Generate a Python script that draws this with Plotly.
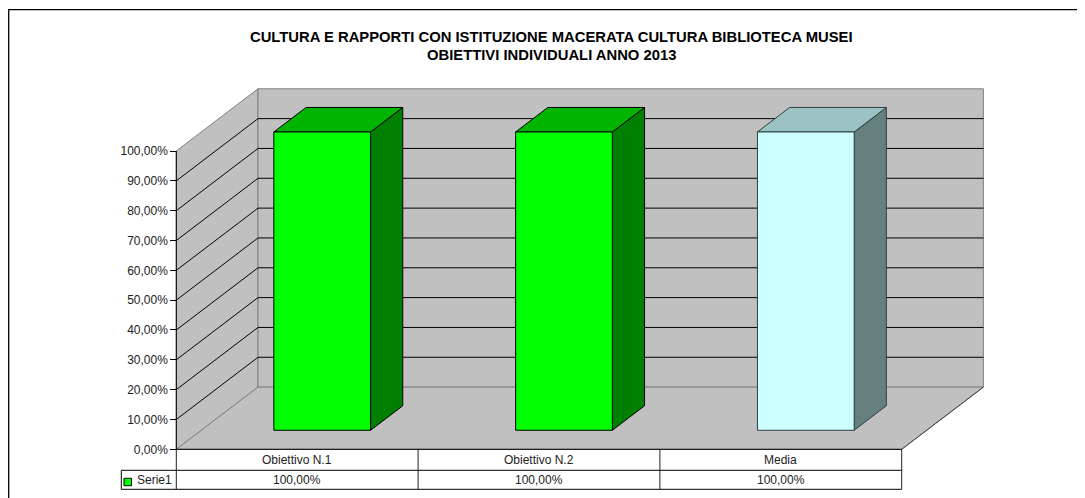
import plotly.graph_objects as go

# ---- data ----
categories = ["Obiettivo N.1", "Obiettivo N.2", "Media"]
values = [1.0, 1.0, 1.0]
series_name = "Serie1"
tick_values = [0, 0.1, 0.2, 0.3, 0.4, 0.5, 0.6, 0.7, 0.8, 0.9, 1.0]
title_lines = ["CULTURA E RAPPORTI CON ISTITUZIONE MACERATA CULTURA BIBLIOTECA MUSEI",
               "OBIETTIVI INDIVIDUALI ANNO 2013"]

# ---- styling / geometry ----
OFF = 8  # page body margin of the html document
W, H = 1085 - OFF, 498 - OFF
PX_PER_CAT = 241.8
PX_PER_UNIT = 298.3
X0_PX = 176.3 - OFF
Y0_PX = 449.3 - OFF
xmin = -X0_PX / PX_PER_CAT
xmax = xmin + W / PX_PER_CAT
ymax = Y0_PX / PX_PER_UNIT
ymin = ymax - H / PX_PER_UNIT
DXC = 81.7 / PX_PER_CAT     # depth offset in category units
DYV = 62.2 / PX_PER_UNIT    # depth offset in value units
D0, D1 = 0.306, 0.70
BAR_W = 0.4
VMAX = 1.0
NCAT = len(categories)

front_cols = ["#00FF00", "#00FF00", "#CCFFFF"]
top_cols = ["#00B400", "#00B400", "#9CC3C3"]
side_cols = ["#008000", "#008000", "#668080"]
edge_cols = ["#000000", "#000000", "#2F3F3F"]
WALL = "#C0C0C0"
WALL_EDGE = "#808080"
FONT = "Liberation Sans, Arial, sans-serif"


def P(c, v, d):
    return c + d * DXC, v + d * DYV


def poly(pts, fill, line, width=1):
    xs = [p[0] for p in pts] + [pts[0][0]]
    ys = [p[1] for p in pts] + [pts[0][1]]
    return go.Scatter(x=xs, y=ys, mode="lines", fill="toself", fillcolor=fill,
                      line=dict(color=line, width=width), hoverinfo="skip",
                      showlegend=False)


def line(pts, color, width=1):
    return go.Scatter(x=[p[0] for p in pts], y=[p[1] for p in pts], mode="lines",
                      line=dict(color=color, width=width), hoverinfo="skip",
                      showlegend=False)


fig = go.Figure()

# walls and floor
fig.add_trace(poly([P(0, 0, 0), P(0, 0, 1), P(0, VMAX, 1), P(0, VMAX, 0)], WALL, WALL_EDGE))
fig.add_trace(poly([P(0, 0, 1), P(NCAT, 0, 1), P(NCAT, VMAX, 1), P(0, VMAX, 1)], WALL, WALL_EDGE))
fig.add_trace(poly([P(0, 0, 0), P(NCAT, 0, 0), P(NCAT, 0, 1), P(0, 0, 1)], WALL, WALL_EDGE))

# gridlines
for v in tick_values:
    if 0 < v < VMAX:
        fig.add_trace(line([P(0, v, 0), P(0, v, 1), P(NCAT, v, 1)], "#000000"))

# front axis line, floor edges
fig.add_trace(line([P(0, 0, 0), P(0, VMAX, 0)], "#000000"))
fig.add_trace(line([P(NCAT, 0, 0), P(NCAT, 0, 1)], "#404040"))

# bars
for i, val in enumerate(values):
    cl = i + 0.5 - BAR_W / 2
    cr = i + 0.5 + BAR_W / 2
    fig.add_trace(poly([P(cr, 0, D0), P(cr, 0, D1), P(cr, val, D1), P(cr, val, D0)],
                       side_cols[i], edge_cols[i]))
    fig.add_trace(poly([P(cl, val, D0), P(cr, val, D0), P(cr, val, D1), P(cl, val, D1)],
                       top_cols[i], edge_cols[i]))
    fig.add_trace(poly([P(cl, 0, D0), P(cr, 0, D0), P(cr, val, D0), P(cl, val, D0)],
                       front_cols[i], edge_cols[i]))

# data table
ROW1 = -21.0 / PX_PER_UNIT
ROW2 = -40.0 / PX_PER_UNIT
LEFT_CELL = -55.0 / PX_PER_CAT
shapes = []
shapes.append(dict(type="line", xref="x", yref="y", x0=0, x1=NCAT, y0=0, y1=0,
                   line=dict(color="#000000", width=1)))
shapes.append(dict(type="line", xref="x", yref="y", x0=LEFT_CELL, x1=NCAT, y0=ROW1, y1=ROW1,
                   line=dict(color="#000000", width=1)))
shapes.append(dict(type="line", xref="x", yref="y", x0=LEFT_CELL, x1=NCAT, y0=ROW2, y1=ROW2,
                   line=dict(color="#000000", width=1)))
shapes.append(dict(type="line", xref="x", yref="y", x0=LEFT_CELL, x1=LEFT_CELL, y0=ROW1, y1=ROW2,
                   line=dict(color="#000000", width=1)))
for k in range(NCAT + 1):
    shapes.append(dict(type="line", xref="x", yref="y", x0=k, x1=k, y0=0, y1=ROW2,
                       line=dict(color="#202020", width=1)))
# legend key
shapes.append(dict(type="rect", xref="x", yref="y",
                   x0=-52.3 / PX_PER_CAT, x1=-44.8 / PX_PER_CAT,
                   y0=-29.0 / PX_PER_UNIT, y1=-36.4 / PX_PER_UNIT,
                   fillcolor=front_cols[0], line=dict(color="#000000", width=1)))
# outer chart border
shapes.append(dict(type="rect", xref="paper", yref="paper",
                   x0=0.7 / W, x1=1.05, y0=-0.05, y1=1 - (9.7 - OFF) / H,
                   line=dict(color="#000000", width=1.3)))

TXT = dict(family=FONT, size=12, color="#222222")
annotations = []
for i, (cat, val) in enumerate(zip(categories, values)):
    annotations.append(dict(x=i + 0.5, y=ROW1 / 2, xref="x", yref="y", text=cat,
                            yanchor="middle", showarrow=False, font=TXT))
    annotations.append(dict(x=i + 0.5, y=(ROW1 + ROW2) / 2, xref="x", yref="y",
                            text=f"{val * 100:.2f}%".replace(".", ","),
                            yanchor="middle", showarrow=False, font=TXT))
annotations.append(dict(x=-41.5 / PX_PER_CAT, y=(ROW1 + ROW2) / 2, xref="x", yref="y",
                        text=series_name, xanchor="left", yanchor="middle", showarrow=False,
                        font=TXT))
annotations.append(dict(x=(551 - OFF) / W, y=1 - (37 - OFF) / H, xref="paper", yref="paper",
                        text="<b>" + title_lines[0] + "</b>", showarrow=False,
                        xanchor="center", yanchor="middle",
                        font=dict(family=FONT, size=14.8, color="#000000")))
annotations.append(dict(x=(551 - OFF) / W, y=1 - (55.5 - OFF) / H, xref="paper", yref="paper",
                        text="<b>" + title_lines[1] + "</b>", showarrow=False,
                        xanchor="center", yanchor="middle",
                        font=dict(family=FONT, size=14.8, color="#000000")))

fig.update_layout(
    width=W, height=H,
    margin=dict(l=0, r=0, t=0, b=0),
    paper_bgcolor="white", plot_bgcolor="white",
    separators=",.",
    showlegend=False,
    shapes=shapes,
    annotations=annotations,
    xaxis=dict(range=[xmin, xmax], visible=False, fixedrange=True),
    yaxis=dict(range=[ymin, ymax], anchor="free", position=X0_PX / W,
               tickvals=tick_values, tickformat=".2%", ticks="outside",
               ticklen=6, tickcolor="#000000", showgrid=False, zeroline=False,
               showline=False, fixedrange=True,
               tickfont=dict(family=FONT, size=12, color="#222222")),
)

fig.write_html("out.html")
